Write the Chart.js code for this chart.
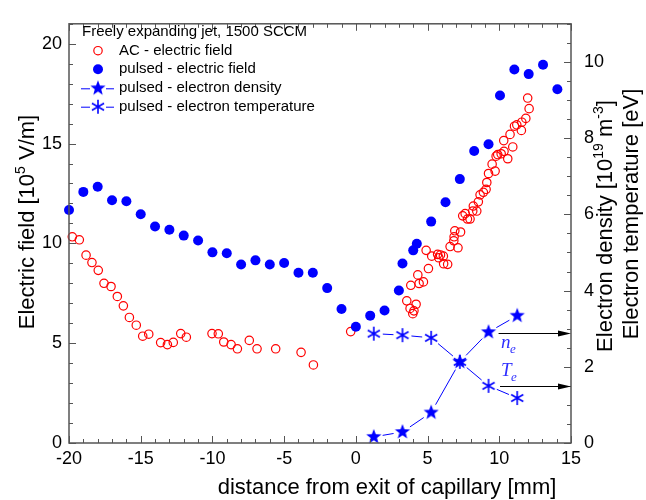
<!DOCTYPE html>
<html>
<head>
<meta charset="utf-8">
<script src="https://cdn.jsdelivr.net/npm/chart.js@4.4.0/dist/chart.umd.min.js"></script>
<style>
  html, body { margin: 0; padding: 0; background: #fff; }
  #wrap { width: 646px; height: 500px; }
</style>
</head>
<body>
<div id="wrap"><canvas id="fieldChart" width="646" height="500"></canvas></div>
<script>
// AC discharge - electric field [10^5 V/m] vs distance [mm]
const acDist = [-19.77, -19.28, -18.81, -18.40, -17.96, -17.56, -17.07, -16.63, -16.21, -15.79,
  -15.31, -14.86, -14.44, -13.61, -13.14, -12.73, -12.21, -11.82, -10.03, -9.59,
  -9.21, -8.70, -8.26, -7.43, -6.89, -5.59, -3.82, -2.96, -0.36,
  3.55, 3.78, 3.97, 4.05, 4.20, 3.83, 4.32, 4.41, 4.71, 4.90,
  5.06, 5.29, 5.70, 5.78, 5.90, 6.10, 6.12, 6.40, 6.57, 6.83,
  7.12, 7.30, 6.90, 6.85, 7.45, 7.62, 7.78, 7.96, 8.15, 8.19,
  8.43, 8.54, 8.66, 8.89, 9.08, 9.13, 9.25, 9.50, 9.71, 9.78,
  9.89, 10.13, 10.31, 10.33, 10.59, 10.75, 10.94, 11.06, 11.22, 11.54,
  11.57, 11.85, 12.08, 11.98];
const acField = [10.33, 10.18, 9.41, 9.04, 8.65, 8.00, 7.84, 7.34, 6.87, 6.29,
  5.90, 5.35, 5.45, 5.03, 4.93, 5.04, 5.48, 5.30, 5.48, 5.47,
  5.06, 4.93, 4.72, 5.14, 4.72, 4.72, 4.54, 3.91, 5.58,
  7.12, 6.74, 6.48, 6.62, 6.95, 7.90, 8.42, 7.99, 8.07, 9.65,
  8.74, 9.36, 9.45, 9.28, 9.42, 9.36, 8.98, 8.95, 9.84, 10.13,
  9.78, 10.57, 10.63, 10.33, 11.38, 11.49, 11.22, 11.22, 11.62, 11.87,
  11.62, 12.08, 12.43, 12.56, 12.71, 13.05, 13.50, 13.97, 13.62, 14.37,
  14.45, 14.49, 15.15, 14.61, 14.24, 15.46, 14.83, 15.87, 15.94, 15.66,
  16.07, 16.26, 16.75, 17.28];

// pulsed discharge - electric field
const pulsedDist = [-20, -19, -18, -17, -16, -15, -14, -13, -12, -11,
  -10, -9, -8, -7, -6, -5, -4, -3, -2, -1,
  0, 1, 2, 3, 3.25, 4, 4.25, 5.25, 6.25, 7.25,
  8.25, 9.25, 10.05, 11.05, 12.05, 13.05, 14.05];
const pulsedField = [11.67, 12.58, 12.84, 12.16, 12.11, 11.46, 10.85, 10.68, 10.39, 10.14,
  9.55, 9.51, 8.94, 9.15, 8.94, 9.02, 8.53, 8.53, 7.76, 6.71,
  5.82, 6.38, 6.64, 7.64, 8.99, 9.65, 9.98, 11.09, 12.06, 13.22,
  14.63, 14.97, 17.41, 18.71, 18.48, 18.95, 17.72];

// pulsed discharge - probe measurements (right axis)
const probeDist = [1.25, 3.25, 5.25, 7.25, 9.25, 11.25];
const densityVals = [0.16, 0.29, 0.80, 2.13, 2.91, 3.34];   // 10^19 m^-3
const tempVals = [2.87, 2.83, 2.76, 2.13, 1.50, 1.18];      // eV

const FONT = '"Liberation Sans", Arial, sans-serif';
const BLUE = '#0000ff';
const RED = '#ff0000';

Chart.defaults.font.family = FONT;
Chart.defaults.color = '#000';

function pts(xs, ys) {
  return xs.map((x, i) => ({ x: x, y: ys[i] }));
}

// filled five-pointed star marker
function makeStar(r, color) {
  const c = document.createElement('canvas');
  const s = Math.ceil(r * 2 + 2);
  c.width = s; c.height = s;
  const g = c.getContext('2d');
  g.translate(s / 2, s / 2);
  g.beginPath();
  for (let i = 0; i < 10; i++) {
    const a = -Math.PI / 2 + i * Math.PI / 5;
    const rr = i % 2 === 0 ? r : r * 0.42;
    g.lineTo(Math.cos(a) * rr, Math.sin(a) * rr);
  }
  g.closePath();
  g.fillStyle = color;
  g.fill();
  return c;
}

// six-armed asterisk marker
function makeAsterisk(r, color) {
  const c = document.createElement('canvas');
  const s = Math.ceil(r * 2 + 2);
  c.width = s; c.height = s;
  const g = c.getContext('2d');
  g.translate(s / 2, s / 2);
  g.strokeStyle = color;
  g.lineWidth = 1.6;
  g.beginPath();
  for (let i = 0; i < 3; i++) {
    const a = Math.PI / 2 + i * Math.PI / 3;
    g.moveTo(Math.cos(a) * r, Math.sin(a) * r);
    g.lineTo(-Math.cos(a) * r, -Math.sin(a) * r);
  }
  g.stroke();
  return c;
}

const starImg = makeStar(8, BLUE);
const astImg = makeAsterisk(7, BLUE);

// text with superscripts; parts = [[text, isSup], ...]
function drawRich(ctx, parts, size, x, y, angle) {
  const supSize = Math.round(size * 0.64);
  let total = 0;
  parts.forEach(p => {
    ctx.font = (p[1] ? supSize : size) + 'px ' + FONT;
    total += ctx.measureText(p[0]).width;
  });
  ctx.save();
  ctx.translate(x, y);
  ctx.rotate(angle);
  ctx.fillStyle = '#000';
  ctx.textBaseline = 'alphabetic';
  ctx.textAlign = 'left';
  let cx = -total / 2;
  parts.forEach(p => {
    ctx.font = (p[1] ? supSize : size) + 'px ' + FONT;
    ctx.fillText(p[0], cx, p[1] ? -size * 0.42 : 0);
    cx += ctx.measureText(p[0]).width;
  });
  ctx.restore();
}

// connecting lines of the probe curves, stopped short of each marker
const gapLinePlugin = {
  id: 'gapLines',
  beforeDatasetsDraw(chart) {
    const ctx = chart.ctx;
    const gap = 9;
    ctx.save();
    ctx.strokeStyle = BLUE;
    ctx.lineWidth = 1;
    [0, 1].forEach(i => {
      const el = chart.getDatasetMeta(i).data;
      ctx.beginPath();
      for (let j = 1; j < el.length; j++) {
        const p0 = el[j - 1], p1 = el[j];
        const dx = p1.x - p0.x, dy = p1.y - p0.y;
        const d = Math.hypot(dx, dy);
        if (d <= gap * 2) continue;
        const ux = dx / d, uy = dy / d;
        ctx.moveTo(p0.x + ux * gap, p0.y + uy * gap);
        ctx.lineTo(p1.x - ux * gap, p1.y - uy * gap);
      }
      ctx.stroke();
    });
    ctx.restore();
  }
};

// box frame with inward major/minor ticks on all four sides
const framePlugin = {
  id: 'frame',
  afterDraw(chart) {
    const { ctx, chartArea: a, scales } = chart;
    const sx = scales.x, sy = scales.y, sy2 = scales.y2;
    ctx.save();
    ctx.strokeStyle = '#555';
    ctx.lineWidth = 1;
    ctx.beginPath();
    for (let v = -20; v <= 15; v++) {
      const px = Math.round(sx.getPixelForValue(v)) + 0.5;
      const len = v % 5 === 0 ? 7 : 4;
      ctx.moveTo(px, a.bottom); ctx.lineTo(px, a.bottom - len);
      ctx.moveTo(px, a.top); ctx.lineTo(px, a.top + len);
    }
    for (let v = 0; v <= 21; v++) {
      const py = Math.round(sy.getPixelForValue(v)) + 0.5;
      const len = v % 5 === 0 ? 7 : 4;
      ctx.moveTo(a.left, py); ctx.lineTo(a.left + len, py);
    }
    for (let v = 0; v <= 11; v += 0.5) {
      const py = Math.round(sy2.getPixelForValue(v)) + 0.5;
      const len = v % 2 === 0 ? 7 : 4;
      ctx.moveTo(a.right, py); ctx.lineTo(a.right - len, py);
    }
    ctx.stroke();
    ctx.lineWidth = 1.5;
    ctx.strokeRect(a.left, a.top, a.right - a.left, a.bottom - a.top);
    ctx.restore();
  }
};

// axis titles
const titlePlugin = {
  id: 'titles',
  afterDraw(chart) {
    const ctx = chart.ctx;
    drawRich(ctx, [['Electric field [10', false], ['5', true], [' V/m]', false]], 22, 34, 222, -Math.PI / 2);
    drawRich(ctx, [['Electron density [10', false], ['19', true], [' m', false], ['-3', true], [']', false]], 22, 612, 226, -Math.PI / 2);
    drawRich(ctx, [['Electron temperature [eV]', false]], 22, 638, 214, -Math.PI / 2);
    drawRich(ctx, [['distance from exit of capillary [mm]', false]], 22, 387, 494, 0);
  }
};

// legend block inside the plot
const legendPlugin = {
  id: 'legendBox',
  afterDraw(chart) {
    const ctx = chart.ctx;
    ctx.save();
    ctx.font = '15px ' + FONT;
    ctx.fillStyle = '#000';
    ctx.textBaseline = 'middle';
    ctx.fillText('Freely expanding jet, 1500 SCCM', 82, 32);
    const rows = [
      { y: 50.7, label: 'AC - electric field' },
      { y: 69.3, label: 'pulsed - electric field' },
      { y: 88.3, label: 'pulsed - electron density' },
      { y: 106.7, label: 'pulsed - electron temperature' }
    ];
    const mx = 98;
    rows.forEach(r => {
      ctx.fillStyle = '#000';
      ctx.fillText(r.label, 119, r.y);
    });
    // AC marker
    ctx.strokeStyle = RED; ctx.lineWidth = 1.2;
    ctx.beginPath(); ctx.arc(mx, rows[0].y, 4.2, 0, Math.PI * 2); ctx.stroke();
    // pulsed marker
    ctx.fillStyle = BLUE;
    ctx.beginPath(); ctx.arc(mx, rows[1].y, 5, 0, Math.PI * 2); ctx.fill();
    // line + markers
    ctx.strokeStyle = BLUE; ctx.lineWidth = 1;
    [rows[2], rows[3]].forEach(r => {
      ctx.beginPath();
      ctx.moveTo(81, r.y + 0.5); ctx.lineTo(90, r.y + 0.5);
      ctx.moveTo(106, r.y + 0.5); ctx.lineTo(114, r.y + 0.5);
      ctx.stroke();
    });
    ctx.drawImage(starImg, mx - starImg.width / 2, rows[2].y - starImg.height / 2);
    ctx.drawImage(astImg, mx - astImg.width / 2, rows[3].y - astImg.height / 2);
    ctx.restore();
  }
};

// arrows pointing the probe curves to the right axis, with n_e / T_e labels
const arrowPlugin = {
  id: 'arrows',
  afterDraw(chart) {
    const { ctx, chartArea: a, scales } = chart;
    const arrows = [
      { x0: 9.95, v: 2.89 },
      { x0: 10.05, v: 1.49 }
    ];
    ctx.save();
    ctx.strokeStyle = '#000';
    ctx.fillStyle = '#000';
    ctx.lineWidth = 1;
    arrows.forEach(ar => {
      const x0 = scales.x.getPixelForValue(ar.x0);
      const y = Math.round(scales.y2.getPixelForValue(ar.v)) + 0.5;
      const x1 = a.right;
      ctx.beginPath();
      ctx.moveTo(x0, y); ctx.lineTo(x1 - 10, y);
      ctx.stroke();
      ctx.beginPath();
      ctx.moveTo(x1, y); ctx.lineTo(x1 - 13, y - 3); ctx.lineTo(x1 - 13, y + 3);
      ctx.closePath(); ctx.fill();
    });
    ctx.fillStyle = '#3030ff';
    ctx.textBaseline = 'alphabetic';
    ctx.font = 'italic 19px "Liberation Serif", "Times New Roman", serif';
    ctx.fillText('n', 501, 348);
    ctx.fillText('T', 501, 376);
    ctx.font = 'italic 13px "Liberation Serif", "Times New Roman", serif';
    ctx.fillText('e', 510, 353);
    ctx.fillText('e', 511, 381);
    ctx.restore();
  }
};

const chart = new Chart(document.getElementById('fieldChart'), {
  type: 'scatter',
  data: {
    datasets: [
      {
        label: 'pulsed - electron density',
        data: pts(probeDist, densityVals),
        yAxisID: 'y2',
        pointStyle: starImg,
        clip: false
      },
      {
        label: 'pulsed - electron temperature',
        data: pts(probeDist, tempVals),
        yAxisID: 'y2',
        pointStyle: astImg,
        clip: false
      },
      {
        label: 'pulsed - electric field',
        data: pts(pulsedDist, pulsedField),
        yAxisID: 'y',
        pointStyle: 'circle',
        pointRadius: 5,
        backgroundColor: BLUE,
        borderColor: BLUE,
        borderWidth: 0,
        clip: false
      },
      {
        label: 'AC - electric field',
        data: pts(acDist, acField),
        yAxisID: 'y',
        pointStyle: 'circle',
        pointRadius: 4.2,
        backgroundColor: 'rgba(0,0,0,0)',
        borderColor: RED,
        borderWidth: 1.2,
        clip: false
      }
    ]
  },
  options: {
    responsive: false,
    animation: false,
    devicePixelRatio: 1,
    layout: { padding: { top: 10, left: 0, right: 0, bottom: 0 } },
    plugins: {
      legend: { display: false },
      tooltip: { enabled: false }
    },
    scales: {
      x: {
        type: 'linear',
        min: -20,
        max: 15,
        afterFit: s => { s.height = 57; },
        grid: { display: false, drawTicks: false },
        border: { display: false },
        ticks: { stepSize: 5, padding: 5, color: '#000', font: { size: 18 } }
      },
      y: {
        type: 'linear',
        position: 'left',
        min: 0,
        max: 21,
        afterFit: s => { s.width = 69; },
        grid: { display: false, drawTicks: false },
        border: { display: false },
        ticks: { stepSize: 5, includeBounds: false, padding: 7, color: '#000', font: { size: 18 } }
      },
      y2: {
        type: 'linear',
        position: 'right',
        min: 0,
        max: 11,
        afterFit: s => { s.width = 75; },
        grid: { display: false, drawTicks: false },
        border: { display: false },
        ticks: { stepSize: 2, includeBounds: false, padding: 13, color: '#000', font: { size: 18 } }
      }
    }
  },
  plugins: [gapLinePlugin, framePlugin, titlePlugin, legendPlugin, arrowPlugin]
});
</script>
</body>
</html>
